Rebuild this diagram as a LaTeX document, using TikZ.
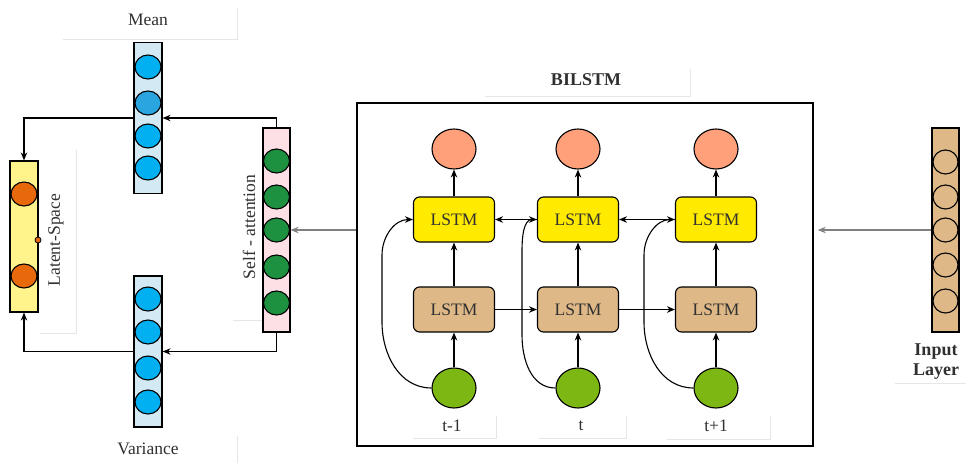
\documentclass[tikz,border=0pt]{standalone}
\usepackage{fontspec}
\setmainfont{Liberation Serif}
\usetikzlibrary{shapes.geometric,arrows.meta}
\definecolor{blueFill}{HTML}{D3EAF5}
\definecolor{circBlue}{HTML}{00B0F0}
\definecolor{circBlueB}{HTML}{2AA5DF}
\definecolor{latFill}{HTML}{FFF38C}
\definecolor{orangeC}{HTML}{E8690B}
\definecolor{pinkFill}{HTML}{FDE0E6}
\definecolor{greenC}{HTML}{1E9141}
\definecolor{salmonC}{HTML}{FFA07A}
\definecolor{yelC}{HTML}{FFEA00}
\definecolor{tanC}{HTML}{DEB887}
\definecolor{limeC}{HTML}{7DB714}
\definecolor{grayArr}{HTML}{808080}
\definecolor{faint}{HTML}{E6E6E6}
\definecolor{ink}{HTML}{303030}
\tikzset{
  txt/.style={font=\fontsize{17.5}{20}\selectfont, inner sep=0pt, text=ink},
  btxt/.style={font=\fontsize{18}{20}\selectfont\bfseries, inner sep=0pt, text=ink},
  colbox/.style={draw, line width=1.2pt, inner sep=0pt, minimum width=28},
  unit/.style={ellipse, draw, line width=1.1pt, inner sep=0pt, minimum width=26, minimum height=24},
  bigunit/.style={ellipse, draw, line width=1.1pt, inner sep=0pt, minimum width=44, minimum height=40},
  lstm/.style={draw, line width=1.1pt, rounded corners=6pt, minimum width=81, minimum height=45, inner sep=0pt, font=\fontsize{17.5}{20}\selectfont, text=ink},
  arr/.style={-{Stealth[length=8pt,width=6.5pt]}, line width=1.1pt},
  garr/.style={-{Stealth[length=8pt,width=6.5pt]}, line width=1.1pt, grayArr},
  faintline/.style={faint, line width=1pt}
}
\begin{document}
\begin{tikzpicture}[x=1pt,y=-1pt]
\useasboundingbox (0,0) rectangle (966,463);
% faint text-box borders
\draw[faintline] (63,39) -- (237,39) -- (237,8);
\draw[faintline] (40,333) -- (76,333) -- (76,150);
\draw[faintline] (233,320) -- (262,320);
\draw[faintline] (237,436) -- (237,463);
\draw[faintline] (485,96) -- (690,96) -- (690,69);
\draw[faintline] (413,438) -- (496,438) -- (496,416);
\draw[faintline] (539,438) -- (626,438) -- (626,416);
\draw[faintline] (667,439) -- (770,439) -- (770,416);
\draw[faintline] (895,383) -- (966,383);

% texts
\node[txt] (tmean) at (148,20) {Mean};
\node[txt] (tvar) at (148,449) {Variance};
\node[txt, rotate=90] (tlat) at (56,240) {Latent-Space};
\node[txt, rotate=90] (tsa) at (249,227) {Self - attention};
\node[btxt] (tbil) at (586,80) {BILSTM};
\node[btxt, align=center] (tinp) at (936,362) {Input\\Layer};
\node[txt] (tl1) at (452,426) {t-1};
\node[txt] (tl2) at (581,426) {t};
\node[txt] (tl3) at (716,426) {t+1};

% Mean column
\node[colbox, fill=blueFill, minimum height=151] (mean) at (148,118) {};
\node[unit, fill=circBlue] (m1) at (148,67) {};
\node[unit, fill=circBlueB] (m2) at (148,103) {};
\node[unit, fill=circBlue] (m3) at (148,136) {};
\node[unit, fill=circBlue] (m4) at (148,168) {};

% Variance column
\node[colbox, fill=blueFill, minimum height=151] (var) at (148,351.5) {};
\node[unit, fill=circBlue] (v1) at (148,299) {};
\node[unit, fill=circBlue] (v2) at (148,332) {};
\node[unit, fill=circBlue] (v3) at (148,368) {};
\node[unit, fill=circBlue] (v4) at (148,402) {};

% Latent space
\node[colbox, fill=latFill, minimum height=151] (lat) at (24,236.5) {};
\node[unit, fill=orangeC] (l1) at (24,194) {};
\node[unit, fill=orangeC] (l2) at (24,276) {};
\node[circle, draw, fill=orangeC, line width=0.8pt, inner sep=0pt, minimum size=6] (ldot) at (38,240) {};

% Self-attention
\node[colbox, fill=pinkFill, minimum width=27, minimum height=204] (sa) at (276.5,230) {};
\node[unit, fill=greenC] (s1) at (276.5,161) {};
\node[unit, fill=greenC] (s2) at (276.5,197) {};
\node[unit, fill=greenC] (s3) at (276.5,230) {};
\node[unit, fill=greenC] (s4) at (276.5,267) {};
\node[unit, fill=greenC] (s5) at (276.5,303) {};

% VAE arrows
\draw[arr] (mean.west) -| (lat.north);
\draw[arr] (var.west) -| (lat.south);
\draw[arr] (sa.north) |- (mean.east);
\draw[arr] (sa.south) |- (var.east);

% BiLSTM box
\node[draw, line width=1.6pt, minimum width=456, minimum height=343, inner sep=0pt] (bil) at (585,274.5) {};

% BiLSTM cells
\foreach \i/\x in {1/454, 2/578, 3/716} {
  \node[bigunit, fill=salmonC] (o\i) at (\x,149) {};
  \node[lstm, fill=yelC] (y\i) at (\x,219.5) {LSTM};
  \node[lstm, fill=tanC] (b\i) at (\x,309.5) {LSTM};
  \node[bigunit, fill=limeC] (g\i) at (\x,388) {};
  \draw[arr] (g\i) -- (b\i);
  \draw[arr] (b\i) -- (y\i);
  \draw[arr] (y\i) -- (o\i);
}
\draw[arr] (b1) -- (b2);
\draw[arr] (b2) -- (b3);
\draw[arr] (y2) -- (y1);
\draw[arr] (y3) -- (y2);

\draw[arr] (g1.west) to[out=180,in=-90] (382,322) -- (382,255) to[out=90,in=180] (y1.west);
\draw[arr] (g2.west) to[out=180,in=-90] (522,335) -- (522,250) to[out=90,in=180] (y2.west);
\draw[arr] (g3.west) to[out=180,in=-90] (644,322) -- (644,255) to[out=90,in=180] (y3.west);

% Input layer
\node[colbox, fill=tanC, minimum width=27, minimum height=204] (inp) at (945.5,230) {};
\foreach \i/\y in {1/162, 2/197, 3/230, 4/265, 5/301} {
  \node[unit, fill=tanC, minimum width=25] (i\i) at (945.5,\y) {};
}

% gray arrows
\draw[garr] (inp.west) -- ([xshift=4pt]bil.east |- inp.west);
\draw[garr] (bil.west |- sa.east) -- (sa.east);
\end{tikzpicture}
\end{document}
